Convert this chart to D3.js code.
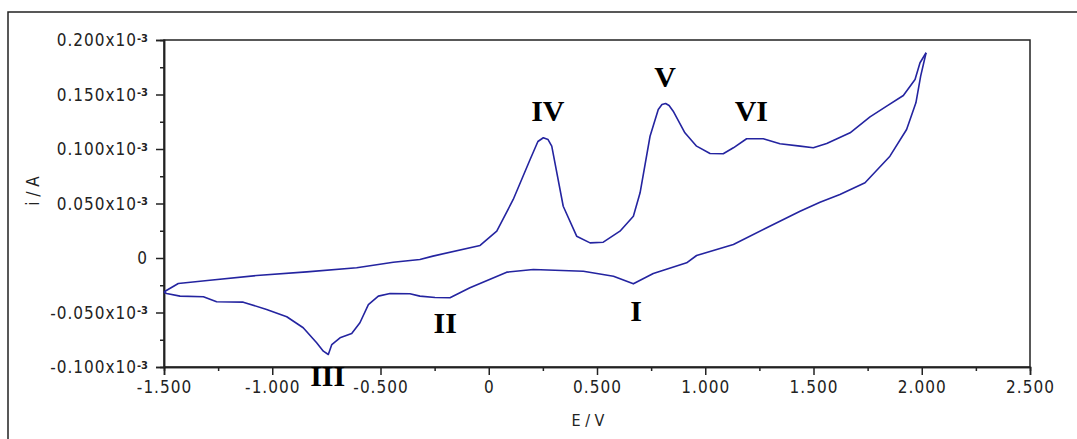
<!DOCTYPE html>
<html>
<head>
<meta charset="utf-8">
<script src="https://cdn.jsdelivr.net/npm/d3@7"></script>
<style>
  body { margin: 0; background: #fff; }
  svg { display: block; }
  .tick text { font-family: "DejaVu Sans Condensed", "DejaVu Sans", sans-serif; font-size: 17px; fill: #222; }
  .axis path, .axis line { stroke: #222; }
</style>
</head>
<body>
<svg width="1077" height="439"></svg>
<script>
// Cyclic voltammogram, potential in V, current in units of 10^-3 A

// Forward (anodic) sweep, -1.5 V -> 2.02 V
var forwardE = [-1.500, -1.495, -1.434, -1.288, -1.072, -0.841, -0.610, -0.441, -0.318, -0.258,
	-0.040, 0.037, 0.113, 0.191, 0.227, 0.252, 0.274, 0.291, 0.344, 0.406, 0.468, 0.529,
	0.606, 0.668, 0.699, 0.745, 0.783, 0.800, 0.817, 0.833, 0.852, 0.906, 0.960, 1.022,
	1.083, 1.130, 1.191, 1.268, 1.345, 1.438, 1.499, 1.561, 1.669, 1.761,
	1.838, 1.915, 1.969, 1.992, 2.020];
var forwardI = [-0.0314, -0.0305, -0.0234, -0.0204, -0.0161, -0.0127, -0.0090, -0.0039, -0.0014, 0.0017,
	0.0115, 0.0246, 0.0537, 0.0904, 0.1069, 0.1103, 0.1087, 0.1026, 0.0475, 0.0200, 0.0139, 0.0145,
	0.0246, 0.0383, 0.0598, 0.1117, 0.1362, 0.1408, 0.1417, 0.1399, 0.1347, 0.1149, 0.1026, 0.0959,
	0.0956, 0.1011, 0.1094, 0.1094, 0.1048, 0.1026, 0.1011, 0.1050, 0.1149, 0.1295,
	0.1393, 0.1491, 0.1638, 0.1791, 0.1883];

// Reverse (cathodic) sweep, 2.02 V -> -1.5 V
var reverseE = [2.020, 1.995, 1.973, 1.930, 1.853, 1.738, 1.622, 1.530, 1.438, 1.284,
	1.130, 0.960, 0.914, 0.760, 0.668, 0.576, 0.437, 0.206, 0.083, -0.087,
	-0.179, -0.248, -0.318, -0.364, -0.456, -0.510, -0.556, -0.595, -0.633, -0.687,
	-0.725, -0.741, -0.764, -0.795, -0.857, -0.933, -1.026, -1.134, -1.257, -1.318,
	-1.426, -1.488, -1.500];
var reverseI = [0.1883, 0.1668, 0.1424, 0.1179, 0.0934, 0.0690, 0.0583, 0.0512, 0.0429, 0.0277,
	0.0124, 0.0023, -0.0044, -0.0142, -0.0237, -0.0167, -0.0121, -0.0106, -0.0130, -0.0273,
	-0.0365, -0.0362, -0.0350, -0.0328, -0.0326, -0.0350, -0.0427, -0.0594, -0.0693, -0.0732,
	-0.0794, -0.0885, -0.0855, -0.0778, -0.0640, -0.0539, -0.0472, -0.0405, -0.0401, -0.0356,
	-0.0350, -0.0326, -0.0314];

// Peak labels and where they sit
var peakNames = ["I", "II", "III", "IV", "V", "VI"];
var peakE = [0.681, -0.201, -0.744, 0.273, 0.815, 1.213];
var peakI = [-0.0574, -0.0684, -0.1175, 0.1257, 0.1570, 0.1257];

var xTicks = [-1.5, -1.0, -0.5, 0, 0.5, 1.0, 1.5, 2.0, 2.5];
var xMinor = [-1.25, -0.75, -0.25, 0.25, 0.75, 1.25, 1.75, 2.25];
var yTicks = [-0.1, -0.05, 0, 0.05, 0.1, 0.15, 0.2];
var yMinor = [-0.075, -0.025, 0.025, 0.075, 0.125, 0.175];

var svg = d3.select("svg");

var x = d3.scaleLinear().domain([-1.5, 2.5]).range([164, 1030]);
var y = d3.scaleLinear().domain([-0.1, 0.2]).range([367, 40]);

// outer frame
svg.append("rect")
	.attr("x", 8).attr("y", 12)
	.attr("width", 1100).attr("height", 460)
	.attr("fill", "none")
	.attr("stroke", "#222")
	.attr("stroke-width", 1.5);

// plot box
svg.append("rect")
	.attr("x", x(-1.5)).attr("y", y(0.2))
	.attr("width", x(2.5) - x(-1.5))
	.attr("height", y(-0.1) - y(0.2))
	.attr("fill", "#fff")
	.attr("stroke", "#222")
	.attr("stroke-width", 1.5);

function fmtX(d) {
	return d == 0 ? "0" : d3.format(".3f")(d).replace("−", "-");
}

// x axis
var gx = svg.append("g")
	.attr("class", "axis")
	.attr("transform", "translate(0," + y(-0.1) + ")");
gx.call(d3.axisBottom(x).tickValues(xTicks).tickSize(8).tickPadding(6).tickFormat(fmtX));
gx.append("g").call(d3.axisBottom(x).tickValues(xMinor).tickSize(4).tickFormat(""));
gx.selectAll("path.domain").attr("stroke-width", 1.5);
gx.selectAll("line").attr("stroke-width", 1.5);
gx.selectAll(".tick text").attr("letter-spacing", "1px");

// y axis
var gy = svg.append("g")
	.attr("class", "axis")
	.attr("transform", "translate(" + x(-1.5) + ",0)");
gy.call(d3.axisLeft(y).tickValues(yTicks).tickSize(8).tickPadding(8).tickFormat(""));
gy.append("g").call(d3.axisLeft(y).tickValues(yMinor).tickSize(4).tickFormat(""));
gy.selectAll("path.domain").attr("stroke-width", 1.5);
gy.selectAll("line").attr("stroke-width", 1.5);

gy.selectAll(".tick").filter(function (d) { return yTicks.indexOf(d) >= 0; })
	.each(function (d) {
		var t = d3.select(this).select("text")
			.attr("x", -16)
			.attr("dy", "0.35em")
			.attr("letter-spacing", "1px")
			.text(null);
		if (d == 0) {
			t.text("0");
		} else {
			t.append("tspan").text(d3.format(".3f")(d).replace("−", "-") + "x10");
			t.append("tspan").attr("dy", "-0.45em").attr("font-size", "11px")
				.attr("font-weight", "bold").attr("letter-spacing", "0px").text("-3");
		}
	});

// axis titles
svg.append("text")
	.attr("x", 588).attr("y", 426)
	.attr("text-anchor", "middle")
	.attr("font-family", "DejaVu Sans Condensed, DejaVu Sans, sans-serif")
	.attr("font-size", "16px")
	.attr("fill", "#222")
	.text("E / V");

svg.append("text")
	.attr("transform", "translate(39,191) rotate(-90)")
	.attr("text-anchor", "middle")
	.attr("font-family", "DejaVu Sans Condensed, DejaVu Sans, sans-serif")
	.attr("font-size", "17px")
	.attr("fill", "#222")
	.text("i / A");

// curve
var line = d3.line()
	.x(function (d) { return x(d[0]); })
	.y(function (d) { return y(d[1]); });

var forward = forwardE.map(function (e, i) { return [e, forwardI[i]]; });
var reverse = reverseE.map(function (e, i) { return [e, reverseI[i]]; });

[forward, reverse].forEach(function (pts) {
	svg.append("path")
		.datum(pts)
		.attr("fill", "none")
		.attr("stroke", "#2424a0")
		.attr("stroke-width", 1.6)
		.attr("stroke-linejoin", "round")
		.attr("d", line);
});

// peak labels
svg.selectAll(".peak")
	.data(peakNames)
	.enter().append("text")
	.attr("class", "peak")
	.attr("x", function (d, i) { return x(peakE[i]); })
	.attr("y", function (d, i) { return y(peakI[i]); })
	.attr("text-anchor", "middle")
	.attr("font-family", "Liberation Serif, Times New Roman, serif")
	.attr("font-weight", "bold")
	.attr("font-size", "30px")
	.attr("fill", "#000")
	.text(function (d) { return d; });
</script>
</body>
</html>
